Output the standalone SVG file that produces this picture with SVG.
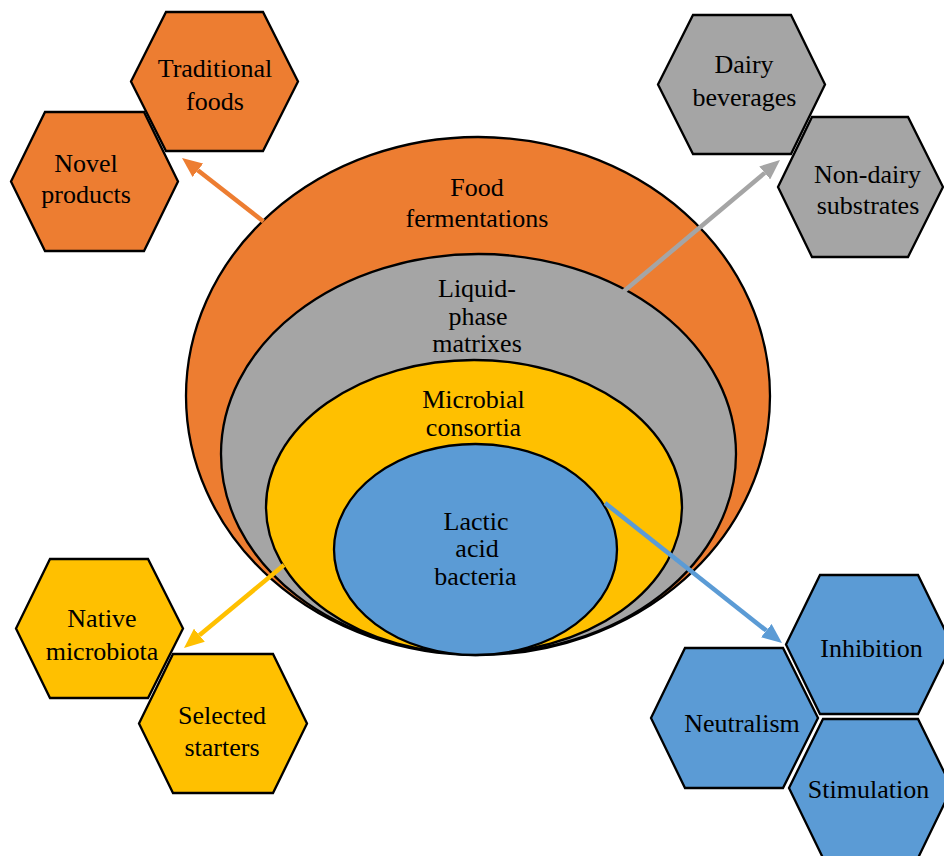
<svg xmlns="http://www.w3.org/2000/svg" width="944" height="856" viewBox="0 0 944 856">
<style>
.o{fill:#ED7D31}.g{fill:#A5A5A5}.y{fill:#FFC000}.b{fill:#5B9BD5}
.s{stroke:#000;stroke-width:2.3;stroke-linejoin:miter}
text{font-family:"Liberation Serif","Times New Roman",serif;font-size:26px;fill:#000;text-anchor:middle}
.c line{stroke-width:4.5}
</style>
<defs>
<marker id="ao" markerUnits="userSpaceOnUse" markerWidth="20" markerHeight="17" refX="0" refY="8.5" orient="auto"><path d="M0,0 L20,8.5 L0,17 z" fill="#ED7D31"/></marker>
<marker id="ag" markerUnits="userSpaceOnUse" markerWidth="20" markerHeight="17" refX="0" refY="8.5" orient="auto"><path d="M0,0 L20,8.5 L0,17 z" fill="#A5A5A5"/></marker>
<marker id="ay" markerUnits="userSpaceOnUse" markerWidth="20" markerHeight="17" refX="0" refY="8.5" orient="auto"><path d="M0,0 L20,8.5 L0,17 z" fill="#FFC000"/></marker>
<marker id="ab" markerUnits="userSpaceOnUse" markerWidth="20" markerHeight="17" refX="0" refY="8.5" orient="auto"><path d="M0,0 L20,8.5 L0,17 z" fill="#5B9BD5"/></marker>
</defs>
<rect width="944" height="856" fill="#fff"/>
<g id="food-fermentations"><ellipse class="o s" cx="478" cy="396" rx="292" ry="259"/><text x="477" y="196">Food</text><text x="477" y="227">fermentations</text></g>
<g id="liquid-phase"><ellipse class="g s" cx="478.5" cy="454" rx="257.5" ry="200"/><text x="477" y="297">Liquid-</text><text x="478" y="325">phase</text><text x="477" y="352">matrixes</text></g>
<g id="microbial-consortia"><ellipse class="y s" cx="474" cy="507" rx="208" ry="147"/><text x="473.5" y="408">Microbial</text><text x="473.5" y="436">consortia</text></g>
<g id="lab"><ellipse class="b s" cx="475.5" cy="549.5" rx="141.5" ry="105.5"/><text x="476" y="530">Lactic</text><text x="477" y="557">acid</text><text x="475.5" y="585">bacteria</text></g>
<g id="traditional-foods"><polygon class="o s" points="166,12 263,12 298,81.5 263,151 166,151 131,81.5"/><text x="215" y="77">Traditional</text><text x="215" y="110">foods</text></g>
<g id="novel-products"><polygon class="o s" points="45,112 144,112 178,181.5 144,251 45,251 11,181.5"/><text x="86" y="172">Novel</text><text x="86" y="203">products</text></g>
<g id="dairy-beverages"><polygon class="g s" points="693,15 791,15 825,84.5 791,154 693,154 658,84.5"/><text x="744" y="73">Dairy</text><text x="744.5" y="106">beverages</text></g>
<g id="non-dairy"><polygon class="g s" points="812,117 908,117 943,187 908,257 812,257 778,187"/><text x="867.5" y="183">Non-dairy</text><text x="868" y="214">substrates</text></g>
<g id="native-microbiota"><polygon class="y s" points="50,559 148,559 183,628.5 148,698 50,698 16,628.5"/><text x="102" y="627">Native</text><text x="102" y="660">microbiota</text></g>
<g id="selected-starters"><polygon class="y s" points="173,654 273,654 307,723.5 273,793 173,793 139,723.5"/><text x="222" y="724">Selected</text><text x="222" y="756">starters</text></g>
<g id="inhibition"><polygon class="b s" points="820,575 918,575 952,644.5 918,714 820,714 786,644.5"/><text x="871.5" y="657">Inhibition</text></g>
<g id="neutralism"><polygon class="b s" points="685,648 783,648 818,718 783,788 685,788 651,718"/><text x="742" y="732">Neutralism</text></g>
<g id="stimulation"><polygon class="b s" points="823,719 918,719 952,788 918,858 823,858 789,788"/><text x="868.5" y="798">Stimulation</text></g>
<g id="connectors" class="c">
<line x1="263.5" y1="221.5" x2="197.8" y2="170.3" stroke="#ED7D31" marker-end="url(#ao)"/>
<line x1="623" y1="292" x2="764.7" y2="172.9" stroke="#A5A5A5" marker-end="url(#ag)"/>
<line x1="284" y1="565" x2="199.4" y2="635.2" stroke="#FFC000" marker-end="url(#ay)"/>
<line x1="605" y1="503" x2="766.3" y2="630.6" stroke="#5B9BD5" marker-end="url(#ab)"/>
</g>
</svg>
